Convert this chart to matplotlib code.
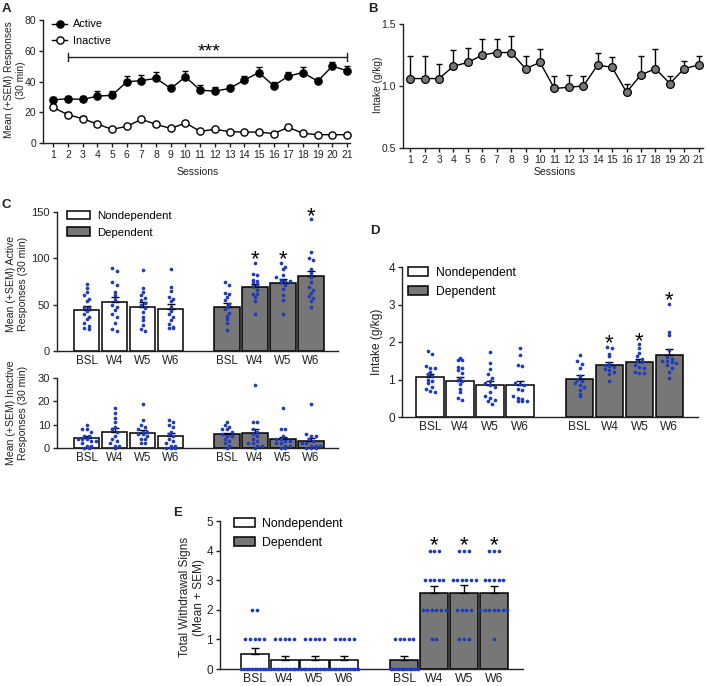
import matplotlib

matplotlib.use("Agg")
import matplotlib.pyplot as plt
import numpy as np
from matplotlib.lines import Line2D
from matplotlib.patches import Patch

plt.rcParams["font.family"] = ["Liberation Sans", "DejaVu Sans"]
plt.rcParams["font.size"] = 8

W, H = 708, 686
INK = "#222222"
GRAY = "#777777"
BLUE = "#1d3cc0"

# ---- A: lever responses across sessions
sessions = list(range(1, 22))
active_mean = [28.1, 28.8, 28.3, 30.5, 31.0, 39.8, 40.6, 42.0, 35.5, 43.0, 34.4,
               33.7, 35.5, 40.9, 45.8, 37.2, 43.5, 45.8, 40.2, 50.0, 47.0]
active_sem = [2.0, 2.0, 2.0, 3.0, 2.5, 3.5, 3.5, 4.0, 2.5, 4.0, 3.0,
              2.5, 2.5, 3.0, 3.5, 2.5, 3.0, 3.5, 2.0, 2.5, 3.0]
inactive_mean = [23.1, 18.4, 15.8, 12.3, 8.9, 10.8, 15.4, 12.1, 9.5, 13.0, 7.6,
                 8.9, 7.4, 7.1, 7.1, 6.1, 10.2, 6.3, 5.4, 5.4, 5.4]
inactive_sem = [2.0, 1.5, 1.5, 1.2, 1.0, 1.2, 1.5, 1.2, 1.0, 1.5, 1.0,
                1.0, 1.0, 1.0, 1.0, 1.0, 1.5, 1.0, 0.8, 0.8, 0.8]

# ---- B: intake across sessions
intake_mean = [1.06, 1.06, 1.06, 1.16, 1.19, 1.25, 1.27, 1.27, 1.14, 1.19, 0.98,
               0.99, 1.00, 1.17, 1.15, 0.95, 1.09, 1.14, 1.02, 1.14, 1.17]
intake_sem = [0.18, 0.18, 0.12, 0.13, 0.12, 0.13, 0.11, 0.13, 0.10, 0.11, 0.10,
              0.10, 0.08, 0.10, 0.08, 0.07, 0.15, 0.16, 0.06, 0.06, 0.07]

weeks = ["BSL", "W4", "W5", "W6"]
groups = ["Nondependent", "Dependent"]

# ---- C (top): active responses
act_nd_mean = [44.1, 52.4, 47.7, 45.2]
act_nd_sem = [4.3, 6.1, 4.7, 5.0]
act_d_mean = [47.7, 69.2, 73.2, 80.7]
act_d_sem = [4.3, 2.9, 4.7, 6.1]
act_nd_pts = [
    [72, 68, 64, 60, 56, 54, 48, 46, 43, 40, 37, 34, 30, 27, 25, 24],
    [90, 86, 75, 71, 64, 60, 55, 50, 47, 44, 40, 37, 30, 24, 22],
    [87, 68, 64, 60, 57, 55, 52, 50, 46, 42, 37, 33, 28, 24, 22],
    [89, 69, 65, 58, 56, 54, 47, 43, 40, 37, 33, 29, 26, 25, 25],
]
act_d_pts = [
    [74, 71, 63, 62, 58, 55, 51, 48, 45, 41, 38, 34, 30, 23],
    [95, 83, 82, 77, 76, 75, 72, 70, 66, 62, 61, 58, 54, 40],
    [95, 91, 88, 82, 80, 77, 76, 76, 74, 71, 67, 60, 55, 40],
    [142, 107, 100, 98, 89, 84, 80, 74, 69, 66, 63, 59, 57, 54, 48],
]

# ---- C (bottom): inactive responses
inact_nd_mean = [4.3, 6.9, 6.6, 5.2]
inact_nd_sem = [0.9, 1.5, 1.2, 1.1]
inact_d_mean = [5.8, 6.3, 3.8, 3.2]
inact_d_sem = [0.7, 1.8, 1.1, 1.0]
inact_nd_pts = [
    [10, 8, 8, 7, 5, 5, 4, 4, 4, 3, 3, 2, 1, 1, 0, 0],
    [17, 15, 13, 11, 9, 8, 7, 5, 4, 3, 2, 1, 1, 0],
    [19, 12, 10, 9, 8, 7, 7, 6, 6, 5, 4, 4, 2, 2],
    [12, 11, 10, 9, 7, 6, 5, 4, 3, 2, 1, 1, 0, 0, 0],
]
inact_d_pts = [
    [11, 10, 9, 8, 8, 7, 6, 5, 5, 4, 3, 2, 1, 0],
    [27, 11, 11, 8, 7, 6, 5, 4, 3, 2, 2, 1, 1, 0],
    [17, 8, 8, 5, 4, 4, 3, 3, 2, 2, 1, 1, 0, 0],
    [19, 6, 5, 5, 4, 3, 2, 2, 1, 1, 1, 0, 0, 0],
]

# ---- D: intake by week
int_nd_mean = [1.07, 0.96, 0.85, 0.85]
int_nd_sem = [0.09, 0.11, 0.11, 0.11]
int_d_mean = [1.02, 1.38, 1.46, 1.66]
int_d_sem = [0.09, 0.08, 0.09, 0.16]
int_nd_pts = [
    [1.75, 1.68, 1.36, 1.32, 1.30, 1.20, 1.15, 1.10, 1.00, 0.95, 0.90, 0.80, 0.75, 0.70, 0.68],
    [1.57, 1.52, 1.51, 1.34, 1.30, 1.25, 1.18, 1.05, 1.00, 0.95, 0.88, 0.76, 0.66, 0.50, 0.45],
    [1.74, 1.43, 1.27, 1.16, 1.05, 0.97, 0.90, 0.85, 0.80, 0.67, 0.55, 0.50, 0.45, 0.42, 0.36],
    [1.83, 1.65, 1.38, 1.36, 0.92, 0.89, 0.85, 0.75, 0.71, 0.55, 0.52, 0.47, 0.44, 0.43, 0.42],
]
int_d_pts = [
    [1.66, 1.50, 1.42, 1.30, 1.10, 1.00, 0.96, 0.90, 0.85, 0.80, 0.72, 0.62, 0.55],
    [1.88, 1.85, 1.68, 1.62, 1.45, 1.40, 1.35, 1.33, 1.28, 1.25, 1.20, 1.16, 0.97],
    [1.94, 1.85, 1.70, 1.62, 1.55, 1.50, 1.47, 1.40, 1.34, 1.30, 1.20, 1.18, 1.17],
    [3.02, 2.28, 2.20, 1.80, 1.60, 1.55, 1.50, 1.50, 1.48, 1.45, 1.40, 1.30, 1.20, 1.05],
]

# ---- E: withdrawal signs
wd_nd_mean = [0.5, 0.3, 0.3, 0.3]
wd_nd_sem = [0.2, 0.13, 0.13, 0.13]
wd_d_mean = [0.3, 2.56, 2.56, 2.56]
wd_d_sem = [0.13, 0.25, 0.27, 0.24]
wd_nd_pts = [
    [2, 2, 1, 1, 1, 1, 1, 0, 0, 0, 0, 0, 0, 0, 0, 0, 0, 0],
    [1, 1, 1, 1, 1, 0, 0, 0, 0, 0, 0, 0, 0, 0, 0, 0],
    [1, 1, 1, 1, 1, 0, 0, 0, 0, 0, 0, 0, 0, 0, 0, 0],
    [1, 1, 1, 1, 1, 0, 0, 0, 0, 0, 0, 0, 0, 0, 0, 0],
]
wd_d_pts = [
    [1, 1, 1, 1, 1, 0, 0, 0, 0, 0, 0, 0, 0, 0, 0, 0],
    [4, 4, 4, 3, 3, 3, 3, 3, 2, 2, 2, 2, 2, 2, 1, 1],
    [4, 4, 4, 3, 3, 3, 3, 3, 3, 2, 2, 2, 2, 1, 1, 1],
    [4, 4, 4, 3, 3, 3, 3, 3, 2, 2, 2, 2, 2, 2, 2, 1],
]

fig = plt.figure(figsize=(W / 100, H / 100), dpi=100)


def px_axes(left, top, right, bottom):
    return fig.add_axes([left / W, 1 - bottom / H, (right - left) / W, (bottom - top) / H])


def ftext(x, y, s, **kw):
    kw.setdefault("ha", "center")
    kw.setdefault("va", "center")
    return fig.text(x / W, 1 - y / H, s, color=INK, **kw)


def style(ax, fs=7.5):
    for s in ("top", "right"):
        ax.spines[s].set_visible(False)
    for s in ("left", "bottom"):
        ax.spines[s].set_linewidth(1.0)
        ax.spines[s].set_color(INK)
    ax.tick_params(direction="out", length=3, width=1.0, color=INK,
                   labelcolor=INK, labelsize=fs, pad=2)


def star(ax, x, y, size=16, s="*"):
    ax.annotate(s, (x, y), xytext=(0, -0.58 * size), textcoords="offset points",
                ha="center", va="baseline", fontsize=size, color="black",
                annotation_clip=False)


def swarm_x(ax, xc, vals, d=4.6, half=13.0):
    pts = ax.transData.transform(np.column_stack([np.full(len(vals), xc), vals]))
    x0 = pts[0, 0]
    rows = {}
    for i, y in enumerate(pts[:, 1]):
        rows.setdefault(int(np.floor(y / d)), []).append(i)
    xpx = np.full(len(vals), x0)
    for idx in rows.values():
        n = len(idx)
        step = d if (n - 1) * d <= 2 * half else 2 * half / (n - 1)
        xpx[idx] = x0 + (np.arange(n) - (n - 1) / 2) * step
    return ax.transData.inverted().transform(np.column_stack([xpx, pts[:, 1]]))[:, 0]


def bar_panel(ax, nd_mean, nd_sem, nd_pts, d_mean, d_sem, d_pts, xlim, ylim, yticks,
              width=0.92, half=13.0, fs=8.0, cat_fs=8.5):
    xs_nd = [0, 1, 2, 3]
    xs_d = [5, 6, 7, 8]
    ax.set_xlim(*xlim)
    ax.set_ylim(*ylim)
    ax.bar(xs_nd, nd_mean, width, color="white", edgecolor="black", lw=1.1, zorder=2)
    ax.bar(xs_d, d_mean, width, color=GRAY, edgecolor="black", lw=1.1, zorder=2)
    for xs, m, e in ((xs_nd, nd_mean, nd_sem), (xs_d, d_mean, d_sem)):
        ax.errorbar(xs, m, yerr=[np.zeros(len(m)), e], fmt="none", ecolor="black",
                    elinewidth=1.0, capsize=3, capthick=1.0, zorder=3)
    for xs, pts in ((xs_nd, nd_pts), (xs_d, d_pts)):
        for x, v in zip(xs, pts):
            px = swarm_x(ax, x, v, half=half)
            ax.scatter(px, v, s=7, color=BLUE, linewidths=0, zorder=4, clip_on=False)
    ax.set_yticks(yticks)
    ax.set_xticks(xs_nd + xs_d)
    ax.set_xticklabels(weeks + weeks)
    style(ax, fs)
    ax.tick_params(axis="x", length=0, pad=3, labelsize=cat_fs)


def group_legend(ax, anchor, hl=2.0, fs=8.5):
    handles = [Patch(facecolor="white", edgecolor="black", lw=1.1),
               Patch(facecolor=GRAY, edgecolor="black", lw=1.1)]
    ax.legend(handles, groups, loc="upper left", bbox_to_anchor=anchor, frameon=False,
              fontsize=fs, handlelength=hl, handleheight=0.8, handletextpad=0.6,
              labelspacing=0.55, borderpad=0, borderaxespad=0)


# ---------------- A
axA = px_axes(43, 20, 350, 143)
axA.set_xlim(0.3, 21.2)
axA.set_ylim(0, 80)
axA.errorbar(sessions, active_mean, yerr=[np.zeros(21), active_sem], fmt="none",
             ecolor="black", elinewidth=1.0, capsize=2.2, capthick=1.0, zorder=2)
axA.errorbar(sessions, inactive_mean, yerr=[np.zeros(21), inactive_sem], fmt="none",
             ecolor="black", elinewidth=1.0, capsize=2.2, capthick=1.0, zorder=2)
axA.plot(sessions, active_mean, "-o", color="black", lw=1.0, ms=5.2,
         mfc="black", mec="black", zorder=3, clip_on=False)
axA.plot(sessions, inactive_mean, "-o", color="black", lw=1.0, ms=5.2,
         mfc="white", mec="black", mew=1.0, zorder=3, clip_on=False)
axA.plot([2, 21], [56, 56], color=INK, lw=1.0)
axA.plot([2, 2], [53.5, 58.5], color=INK, lw=1.0)
axA.plot([21, 21], [53.5, 58.5], color=INK, lw=1.0)
star(axA, 11.6, 63.5, size=14, s="***")
axA.set_xticks(sessions)
axA.set_yticks([0, 20, 40, 60, 80])
style(axA, 7.5)
axA.legend([Line2D([], [], color="black", marker="o", ms=5.2, mfc="black", lw=1.0),
            Line2D([], [], color="black", marker="o", ms=5.2, mfc="white", lw=1.0)],
           ["Active", "Inactive"], loc="upper left", bbox_to_anchor=(0.03, 1.005),
           frameon=False, fontsize=7.8, handlelength=1.4, handletextpad=0.5,
           labelspacing=0.6, borderpad=0, borderaxespad=0)
ftext(6, 9, "A", fontsize=9.5, fontweight="bold")
ftext(15, 80, "Mean (+SEM) Responses\n(30 min)", rotation=90, fontsize=7.3,
      multialignment="center", linespacing=1.2)
ftext(198, 172, "Sessions", fontsize=7.5)

# ---------------- B
axB = px_axes(403, 24, 703, 148)
axB.set_xlim(0.5, 21.3)
axB.set_ylim(0.5, 1.5)
axB.errorbar(sessions, intake_mean, yerr=[np.zeros(21), intake_sem], fmt="none",
             ecolor="black", elinewidth=1.0, capsize=2.2, capthick=1.0, zorder=2)
axB.plot(sessions, intake_mean, "-o", color="black", lw=1.0, ms=5.6,
         mfc=GRAY, mec="black", mew=0.9, zorder=3)
axB.set_xticks(sessions)
axB.set_yticks([0.5, 1.0, 1.5])
axB.set_yticklabels(["0.5", "1.0", "1.5"])
style(axB, 7.5)
ftext(373, 9, "B", fontsize=9.5, fontweight="bold")
ftext(378, 85, "Intake (g/kg)", rotation=90, fontsize=7.3)
ftext(555, 172, "Sessions", fontsize=7.5)

# ---------------- C top
axC1 = px_axes(57, 212, 338, 351)
bar_panel(axC1, act_nd_mean, act_nd_sem, act_nd_pts, act_d_mean, act_d_sem, act_d_pts,
          (-1.06, 8.96), (0, 150), [0, 50, 100, 150], width=0.9, fs=8.0, cat_fs=8.3)
for x, y in ((6, 106), (7, 106), (8, 153)):
    star(axC1, x, y)
group_legend(axC1, (0.036, 1.01), hl=2.0, fs=8.2)
ftext(6, 205, "C", fontsize=9.5, fontweight="bold")
ftext(17, 284, "Mean (+SEM) Active\nResponses (30 min)", rotation=90, fontsize=7.6,
      multialignment="center", linespacing=1.2)

# ---------------- C bottom
axC2 = px_axes(57, 378, 338, 448)
bar_panel(axC2, inact_nd_mean, inact_nd_sem, inact_nd_pts, inact_d_mean, inact_d_sem,
          inact_d_pts, (-1.06, 8.96), (0, 30), [0, 10, 20, 30], width=0.9,
          fs=8.0, cat_fs=8.3)
ftext(17, 413, "Mean (+SEM) Inactive\nResponses (30 min)", rotation=90, fontsize=7.6,
      multialignment="center", linespacing=1.2)

# ---------------- D
axD = px_axes(402, 267, 698, 417)
bar_panel(axD, int_nd_mean, int_nd_sem, int_nd_pts, int_d_mean, int_d_sem, int_d_pts,
          (-0.94, 8.96), (0, 4), [0, 1, 2, 3, 4], width=0.92, half=13.5,
          fs=8.5, cat_fs=8.6)
for x, y in ((6, 2.16), (7, 2.21), (8, 3.31)):
    star(axD, x, y)
group_legend(axD, (0.02, 1.0), hl=1.7, fs=8.7)
ftext(375, 231, "D", fontsize=9.5, fontweight="bold")
ftext(377, 342, "Intake (g/kg)", rotation=90, fontsize=8.6)

# ---------------- E
axE = px_axes(220, 521, 523, 669)
bar_panel(axE, wd_nd_mean, wd_nd_sem, wd_nd_pts, wd_d_mean, wd_d_sem, wd_d_pts,
          (-1.16, 8.97), (0, 5), [0, 1, 2, 3, 4, 5], width=0.94, half=13.5,
          fs=8.5, cat_fs=8.8)
for x in (6, 7, 8):
    star(axE, x, 4.43)
group_legend(axE, (0.047, 1.02), hl=1.7, fs=8.8)
ftext(178, 513, "E", fontsize=9.5, fontweight="bold")
ftext(192, 597, "Total Withdrawal Signs\n(Mean + SEM)", rotation=90, fontsize=8.6,
      multialignment="center", linespacing=1.2)

fig.savefig("out.png", dpi=100)
